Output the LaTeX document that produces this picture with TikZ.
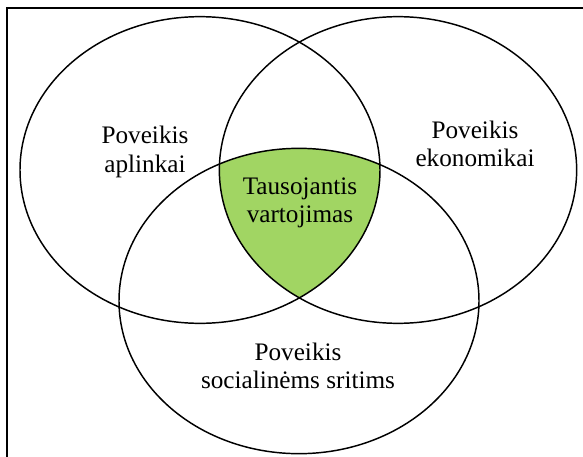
\documentclass[tikz,border=0pt]{standalone}
\usepackage{fontspec}
\setmainfont{Liberation Serif}
\usepackage{tikz}
\usetikzlibrary{positioning}
\definecolor{g}{RGB}{161,213,99}
\tikzset{ring/.style={draw=black, line width=1.1pt},
         lbl/.style={align=center, inner sep=0pt, font=\fontsize{18.9}{21.5}\selectfont},
         frame/.style={draw=black, line width=1.5pt}}

\begin{document}
\begin{tikzpicture}[x=0.75pt, y=-0.75pt]
 \useasboundingbox (0,0) rectangle (583,457);
 \draw[frame] (7,8) rectangle (600,475);

 \coordinate (cl) at (200,170);
 \coordinate (cr) at (398,170);
 \coordinate (cb) at (299,301);

 % common part of the three
 \begin{scope}
   \clip (cl) ellipse [x radius=135pt, y radius=115pt];
   \clip (cr) ellipse [x radius=134pt, y radius=115pt];
   \fill[g] (cb) ellipse [x radius=135pt, y radius=114.5pt];
 \end{scope}

 \draw[ring] (cl) ellipse [x radius=135pt, y radius=115pt];
 \draw[ring] (cr) ellipse [x radius=134pt, y radius=115pt];
 \draw[ring] (cb) ellipse [x radius=135pt, y radius=114.5pt];

 \node[lbl] (aplinka) at (145,152) {Poveikis\\aplinkai};
 \node[lbl] (ekonomika) at (475,144) {Poveikis\\ekonomikai};
 \node[lbl] (tausa) at (300,203) {Tausojantis\\vartojimas};
 \node[lbl] (socialine) at (298,366) {Poveikis\\socialinėms sritims};
\end{tikzpicture}
\end{document}
